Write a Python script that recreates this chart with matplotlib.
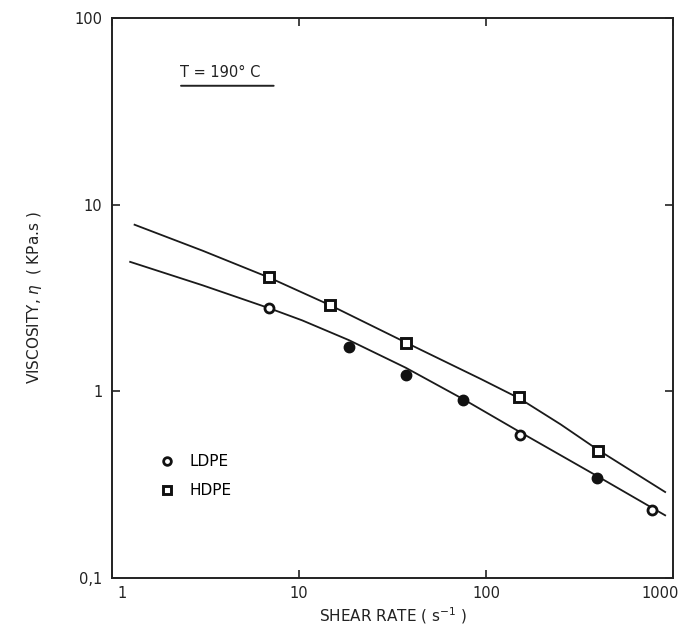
import numpy as np
import matplotlib
matplotlib.use("Agg")
import matplotlib.pyplot as plt
from matplotlib.ticker import FixedLocator, NullLocator
from matplotlib.transforms import ScaledTranslation

# measured points (shear rate in 1/s, viscosity in kPa.s)
hdpe_rate = [6.9, 14.6, 37.1, 150, 394]
hdpe_visc = [4.10, 2.90, 1.81, 0.93, 0.48]

ldpe_rate = [6.9, 18.5, 37.1, 75.5, 151, 390, 773]
ldpe_visc = [2.79, 1.73, 1.22, 0.895, 0.587, 0.345, 0.232]
ldpe_filled = [False, True, True, True, False, True, False]

# fitted curves
hdpe_fit_rate = [1.32, 3.05, 6.92, 14.6, 37.1, 65.2, 94, 150, 250, 394, 906]
hdpe_fit_visc = [7.81, 5.67, 4.07, 2.90, 1.83, 1.39, 1.163, 0.919, 0.666, 0.488, 0.289]

ldpe_fit_rate = [1.25, 3.05, 6.92, 10.4, 18.5, 37.1, 75.5, 151, 390, 773, 906]
ldpe_fit_visc = [4.94, 3.70, 2.79, 2.40, 1.88, 1.34, 0.908, 0.607, 0.353, 0.2375, 0.2168]

x_ticks = [1, 10, 100, 1000]
x_ticklabels = ["1", "10", "100", "1000"]
y_ticks = [0.1, 1, 10, 100]
y_ticklabels = ["0,1", "1", "10", "100"]

plt.rcParams['font.family'] = ['DejaVu Sans']

fig = plt.figure(figsize=(6.81, 6.43), dpi=100)
ax = fig.add_axes([0.1645, 0.101, 0.824, 0.871])

ax.plot(hdpe_fit_rate, hdpe_fit_visc, '-', color='#1a1a1a', lw=1.3)
ax.plot(ldpe_fit_rate, ldpe_fit_visc, '-', color='#1a1a1a', lw=1.3)

ax.plot(hdpe_rate, hdpe_visc, 's', ms=6.8, mfc='white', mec='#111111', mew=2.1,
        ls='none', label='HDPE', zorder=3)

open_r = [r for r, f in zip(ldpe_rate, ldpe_filled) if not f]
open_v = [v for v, f in zip(ldpe_visc, ldpe_filled) if not f]
full_r = [r for r, f in zip(ldpe_rate, ldpe_filled) if f]
full_v = [v for v, f in zip(ldpe_visc, ldpe_filled) if f]
ax.plot(open_r, open_v, 'o', ms=6.5, mfc='white', mec='#111111', mew=2.0,
        ls='none', label='LDPE', zorder=3)
ax.plot(full_r, full_v, 'o', ms=7.5, color='#111111', ls='none', zorder=3)

ax.set_xscale('log')
ax.set_yscale('log')
ax.set_xlim(1, 1000)
ax.set_ylim(0.1, 100)

ax.xaxis.set_major_locator(FixedLocator(x_ticks))
ax.yaxis.set_major_locator(FixedLocator(y_ticks))
ax.xaxis.set_minor_locator(NullLocator())
ax.yaxis.set_minor_locator(NullLocator())
ax.set_xticklabels(x_ticklabels)
ax.set_yticklabels(y_ticklabels)
ax.tick_params(which='major', direction='in', length=6, width=1.2,
               top=True, right=True, labelsize=10.5, colors='#222222')
ax.tick_params(axis='x', pad=6)
ax.tick_params(axis='y', pad=7)
for s in ax.spines.values():
    s.set_linewidth(1.4)
    s.set_color('#222222')

# the end labels sit a little inward in the original
xlabels = ax.get_xticklabels()
xlabels[0].set_transform(xlabels[0].get_transform() + ScaledTranslation(0.10, 0, fig.dpi_scale_trans))
xlabels[-1].set_transform(xlabels[-1].get_transform() + ScaledTranslation(-0.13, 0, fig.dpi_scale_trans))

ax.set_xlabel('SHEAR RATE ( s$^{-1}$ )', fontsize=11, labelpad=3, color='#222222')
ax.set_ylabel('VISCOSITY, $\\eta$  ( KPa.s )', fontsize=11, labelpad=22, color='#222222')

ax.text(0.121, 0.902, 'T = 190° C', transform=ax.transAxes, fontsize=10.5,
        ha='left', va='center', color='#222222')
ax.annotate('', xy=(0.118, 0.879), xytext=(0.293, 0.879), xycoords='axes fraction',
            arrowprops=dict(arrowstyle='-', lw=1.4, color='#222222'))

handles, labels = ax.get_legend_handles_labels()
order = [labels.index('LDPE'), labels.index('HDPE')]
ax.legend([handles[i] for i in order], [labels[i] for i in order],
          loc='center left', bbox_to_anchor=(0.06, 0.182), frameon=False,
          handlelength=1.0, handletextpad=1.0, labelspacing=0.9, fontsize=11,
          markerscale=0.85)

fig.savefig('out.png', dpi=100)
